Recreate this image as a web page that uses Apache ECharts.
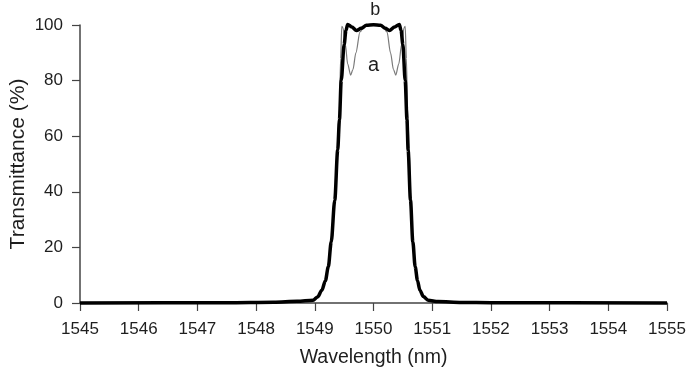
<!DOCTYPE html>
<html>
<head>
<meta charset="utf-8">
<script src="https://cdn.jsdelivr.net/npm/echarts@6/dist/echarts.min.js"></script>
<style>
  html, body { margin: 0; padding: 0; background: #fff; }
  #chart { width: 689px; height: 374px; }
</style>
</head>
<body>
<div id="chart"></div>
<script>
// wavelength (nm) / transmittance (%)
const waveB = [1545, 1547.5, 1548.3, 1548.7, 1548.97, 1549.05, 1549.12, 1549.18, 1549.23, 1549.28,
  1549.34, 1549.39, 1549.42, 1549.45, 1549.5, 1549.53, 1549.56, 1549.63, 1549.71, 1549.79,
  1549.88, 1550.0, 1550.12, 1550.2, 1550.27, 1550.36, 1550.44, 1550.47, 1550.5, 1550.54,
  1550.57, 1550.59, 1550.63, 1550.67, 1550.71, 1550.75, 1550.79, 1550.85, 1550.93, 1551.1,
  1551.5, 1552, 1555];
const transB = [0, 0.1, 0.3, 0.6, 1, 2.2, 4.6, 8, 13, 22,
  37, 55, 66, 80, 93, 98, 100.2, 99.3, 98, 98.8,
  99.9, 100.1, 99.9, 98.8, 98, 99.3, 100.2, 98, 93, 80,
  66, 55, 37, 22, 13, 8, 4.6, 2.3, 1, 0.5,
  0.2, 0.1, 0];

const waveA = [1545, 1547.5, 1548.3, 1548.7, 1548.97, 1549.05, 1549.12, 1549.18, 1549.23, 1549.28,
  1549.34, 1549.39, 1549.42, 1549.44, 1549.46, 1549.48, 1549.52, 1549.56, 1549.61, 1549.65,
  1549.7, 1549.77, 1549.85, 1550.0, 1550.15, 1550.23, 1550.29, 1550.34, 1550.38, 1550.43,
  1550.48, 1550.52, 1550.54, 1550.56, 1550.58, 1550.61, 1550.63, 1550.67, 1550.71, 1550.75,
  1550.79, 1550.85, 1550.93, 1551.1, 1551.5, 1552, 1555];
const transA = [0, 0.1, 0.3, 0.6, 1, 2.2, 4.6, 8, 13, 22,
  37, 55, 70, 88, 99.5, 99, 93, 86, 82, 84,
  90, 97.5, 99.8, 100, 99.8, 97.5, 90, 84, 82, 86,
  93, 99, 99.5, 88, 70, 55, 37, 22, 13, 8,
  4.6, 2.3, 1, 0.5, 0.2, 0.1, 0];

const xTicks = [1545, 1555, 1];
const yTicks = [0, 100, 20];

const FONT = '"Liberation Sans", Arial, sans-serif';
const INK = '#1e1e1e';

const chart = echarts.init(document.getElementById('chart'));

const axisCommon = {
  axisLine: { show: true, lineStyle: { color: '#444', width: 1.5 } },
  axisTick: { show: true, inside: false, length: 8, lineStyle: { color: '#444', width: 1.2 } },
  splitLine: { show: false },
  nameMoveOverlap: false
};

chart.setOption({
  animation: false,
  backgroundColor: '#fff',
  grid: { left: 80, right: 22, top: 25, bottom: 71, containLabel: false, outerBoundsMode: 'none' },
  xAxis: Object.assign({}, axisCommon, {
    type: 'value',
    min: xTicks[0], max: xTicks[1], interval: xTicks[2],
    name: 'Wavelength (nm)',
    nameLocation: 'middle',
    nameGap: 45,
    nameTextStyle: { fontFamily: FONT, fontSize: 19.5, color: INK },
    axisLabel: { fontFamily: FONT, fontSize: 17, color: INK, margin: 18, showMaxLabel: true,
      formatter: v => String(v) }
  }),
  yAxis: Object.assign({}, axisCommon, {
    type: 'value',
    min: yTicks[0], max: yTicks[1], interval: yTicks[2],
    name: 'Transmittance (%)',
    nameLocation: 'middle',
    nameGap: 51,
    nameTextStyle: { fontFamily: FONT, fontSize: 21, color: INK },
    axisLabel: { fontFamily: FONT, fontSize: 17, color: INK, margin: 17,
      formatter: v => String(v) }
  }),
  series: [
    {
      name: 'a',
      type: 'line',
      data: waveA.map((w, i) => [w, transA[i]]),
      showSymbol: false,
      smooth: 0.3,
      smoothMonotone: 'x',
      clip: false,
      z: 2,
      lineStyle: { color: '#7a7a7a', width: 1.2 }
    },
    {
      name: 'b',
      type: 'line',
      data: waveB.map((w, i) => [w, transB[i]]),
      showSymbol: false,
      smooth: 0.3,
      smoothMonotone: 'x',
      clip: false,
      z: 3,
      lineStyle: { color: '#000', width: 3.5 }
    }
  ]
});

// curve labels placed in data space
const labelA = chart.convertToPixel({ gridIndex: 0 }, [1550.0, 85.4]);
const labelB = chart.convertToPixel({ gridIndex: 0 }, [1550.03, 105.4]);
chart.setOption({
  graphic: [
    { type: 'text', x: labelA[0], y: labelA[1], style: { text: 'a', font: '20px ' + FONT, fill: INK, align: 'center', verticalAlign: 'middle' } },
    { type: 'text', x: labelB[0], y: labelB[1], style: { text: 'b', font: '18px ' + FONT, fill: INK, align: 'center', verticalAlign: 'middle' } }
  ]
});

window.addEventListener('resize', () => chart.resize());
</script>
</body>
</html>
